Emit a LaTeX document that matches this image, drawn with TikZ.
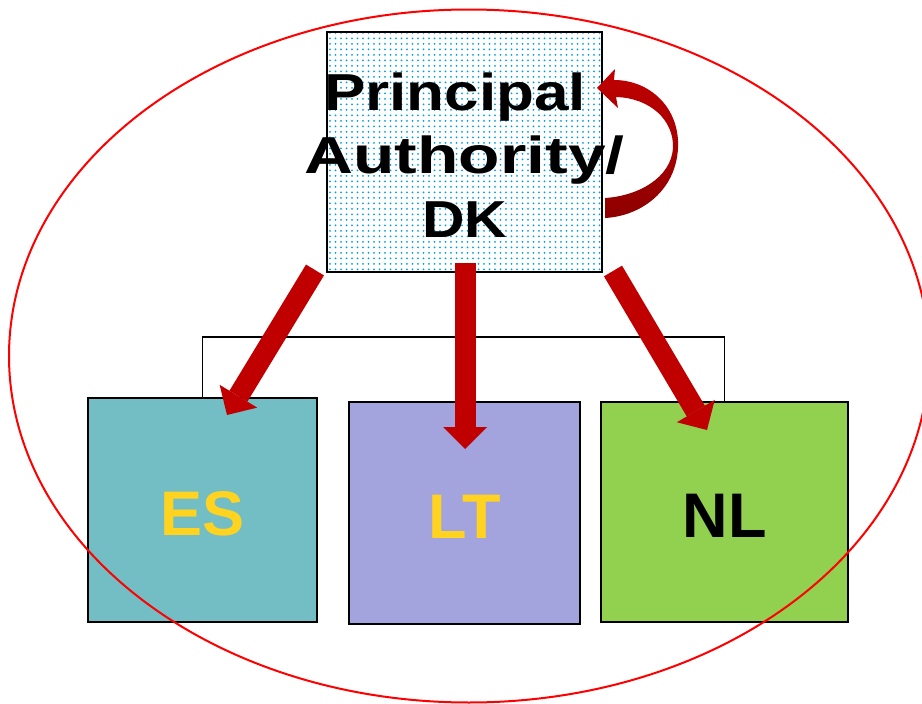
\documentclass[tikz,border=0pt]{standalone}
\usepackage{fontspec}
\setmainfont{Liberation Sans}
\usepackage{graphicx}
\usetikzlibrary{arrows.meta,patterns.meta}
\definecolor{arrowred}{HTML}{C00000}
\definecolor{arrowdark}{HTML}{8E0000}
\definecolor{dotblue}{HTML}{00A0E8}
\definecolor{esfill}{HTML}{72BEC4}
\definecolor{ltfill}{HTML}{A3A3DD}
\definecolor{nlfill}{HTML}{92D050}
\definecolor{goldtext}{HTML}{FFD320}
\definecolor{ovalred}{HTML}{FF0000}
\begin{document}
\begin{tikzpicture}[x=1pt,y=-1pt,
  member/.style={draw=black, line width=2.2pt, rectangle, inner sep=0pt,
    font=\bfseries\fontsize{63}{70}\selectfont, text height=50pt, text depth=0pt},
  authbox/.style={draw=black, line width=2pt, rectangle, inner sep=0pt,
    pattern={Dots[distance=5.5pt,radius=1pt]}, pattern color=dotblue},
  conn/.style={draw=black, line width=1.2pt},
  bigarrow/.style={draw=arrowred, line width=21pt,
    -{Triangle[length=22pt 0 0,width=44pt 0 0,line width=0pt]}},
]
\useasboundingbox (0,0) rectangle (922,704);
\clip (0,0) rectangle (922,704);

% nodes
\node[authbox, minimum width=275pt, minimum height=240pt] (pa) at (464.5,152) {};
\node[member, fill=esfill, text=goldtext, minimum width=229pt, minimum height=224pt] (es) at (202.5,510) {ES};
\node[member, fill=ltfill, text=goldtext, minimum width=231pt, minimum height=222pt] (lt) at (464.5,513) {LT};
\node[member, fill=nlfill, text=black, minimum width=247pt, minimum height=220pt] (nl) at (724.5,512) {NL};

% org chart connectors
\coordinate (bar) at (466,337);
\draw[conn] (es.north) -- (es.north |- bar) -- (bar);
\draw[conn] (bar) -- (bar -| nl.north) -- (nl.north);

% red oval
\draw[ovalred, line width=2pt] (469,356) ellipse [x radius=460, y radius=346.5];

% red arrows
\coordinate (a1s) at (315,270); \coordinate (a1e) at (227,415);
\coordinate (a2s) at (465,263); \coordinate (a2e) at (465,449);
\coordinate (a3s) at (613,271); \coordinate (a3e) at (707,430);
\draw[bigarrow] (a1s) -- (a1e);
\draw[bigarrow] (a2s) -- (a2e);
\draw[bigarrow] (a3s) -- (a3e);

% curved self arrow
\shade[top color=arrowred, middle color=arrowred, bottom color=arrowdark]
  (597,88) -- (615,69) -- (614,80)
  .. controls (650,80) and (680,108) .. (678,148)
  .. controls (676,190) and (642,216) .. (605,218)
  -- (605,198)
  .. controls (638,196) and (671,178) .. (673,148)
  .. controls (674,120) and (650,98) .. (616,97)
  -- (618,108) -- cycle;

% title text
\node[align=center, inner sep=0pt, font=\bfseries\fontsize{52}{63.5}\selectfont] (pat) at (464.5,155)
  {\resizebox{262pt}{\height}{Principal}\hspace*{19pt}\\
   \resizebox{320pt}{\height}{Authority/}\\
   \resizebox{85pt}{\height}{DK}};
\end{tikzpicture}
\end{document}
